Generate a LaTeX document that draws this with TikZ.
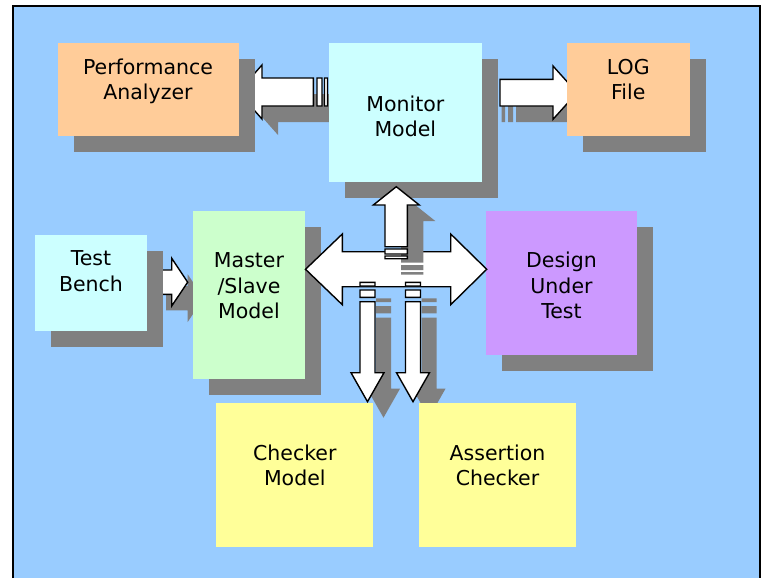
\documentclass[tikz,border=0pt]{standalone}
\usepackage{fontspec}
\setmainfont{DejaVu Sans}
\usetikzlibrary{shadows}
\definecolor{bgblue}{HTML}{99CCFF}
\definecolor{peach}{HTML}{FFCC99}
\definecolor{paleCyan}{HTML}{CCFFFF}
\definecolor{paleGreen}{HTML}{CCFFCC}
\definecolor{lilac}{HTML}{CC99FF}
\definecolor{paleYellow}{HTML}{FFFF99}
\definecolor{shadowgray}{HTML}{808080}
\newcommand{\capstrut}{\rule{0pt}{16pt}}
\newcommand{\blockshape}[1]{\fill[shadowfill,shift={(16,16)}] #1; \filldraw[arrowbody] #1;}
\begin{document}
\begin{tikzpicture}[x=1pt,y=-1pt,
  box/.style={anchor=north west, inner sep=0pt, outer sep=0pt, draw=none},
  shbox/.style={box, drop shadow={shadow xshift=16pt, shadow yshift=-16pt, fill=shadowgray, opacity=1}},
  lbl/.style={anchor=north, inner sep=0pt, align=center, font=\fontsize{20.5pt}{25.5pt}\selectfont, text=black},
  arrowbody/.style={fill=white, draw=black, line width=1.4pt, line join=miter},
  shadowfill/.style={fill=shadowgray}]

\useasboundingbox (0,0) rectangle (762,578);
\fill[white] (0,0) rectangle (762,578);
\fill[bgblue] (13,6.5) rectangle (760,578);
\draw[line width=2pt] (13,578) -- (13,6.5) -- (760,6.5) -- (760,578);

% arrow to Performance Analyzer
\blockshape{(238,92)--(262,65)--(262,78)--(313.3,78)--(313.3,106)--(262,106)--(262,119)--cycle (317,78) rectangle (322,106) (324.5,78) rectangle (327.5,106)}
% arrow to LOG File
\blockshape{(485.7,79.3) rectangle (489,106) (492,79.3) rectangle (497,106) (500,79.3)--(553,79.3)--(553,66)--(577,92.7)--(553,119.3)--(553,106)--(500,106)--cycle}
% arrow Test Bench -> Master
\blockshape{(150,270)--(171.7,270)--(171.7,258.3)--(187.7,282.2)--(171.7,306)--(171.7,294.3)--(150,294.3)--cycle}

% boxes with shadows
\node[shbox, fill=peach, minimum width=181.5pt, minimum height=92.7pt] (perf) at (57.5,43) {};
\node[shbox, fill=peach, minimum width=122.7pt, minimum height=92.7pt] (log) at (567,43) {};
\node[shbox, fill=paleCyan, minimum width=152.7pt, minimum height=138.7pt] (mon) at (329,43.3) {};
\node[shbox, fill=paleCyan, minimum width=112pt, minimum height=95.7pt] (tb) at (35,235) {};
\node[shbox, fill=paleGreen, minimum width=112pt, minimum height=167.7pt] (ms) at (193,211) {};
\node[shbox, fill=lilac, minimum width=151pt, minimum height=143.7pt] (dut) at (486,211) {};

% double arrow Master <-> DUT
\filldraw[arrowbody] (305.5,269.3)--(342.3,234)--(342.3,251.7)--(450.7,251.7)--(450.7,234)--(486.7,269.3)--(450.7,304.7)--(450.7,286.7)--(342.3,286.7)--(342.3,304.7)--cycle;
% up arrow to Monitor
\blockshape{(396.3,186.7)--(419.3,205)--(407.3,205)--(407.3,246.7)--(385,246.7)--(385,205)--(373.3,205)--cycle (385,249) rectangle (407.3,254) (385,256) rectangle (407.3,258.7)}
% down arrows
\blockshape{(360,282.3) rectangle (375,286) (360,290) rectangle (375,297.3) (360,301.7)--(375,301.7)--(375,372.7)--(384,372.7)--(367.5,401.7)--(351,372.7)--(360,372.7)--cycle}
\blockshape{(405.5,282.3) rectangle (420.5,286) (405.5,290) rectangle (420.5,297.3) (405.5,301.7)--(420.5,301.7)--(420.5,372.7)--(429.5,372.7)--(413,401.7)--(396.5,372.7)--(405.5,372.7)--cycle}

% boxes without shadows
\node[box, fill=paleYellow, minimum width=157pt, minimum height=143.7pt] (chk) at (216.3,403) {};
\node[box, fill=paleYellow, minimum width=157pt, minimum height=143.7pt] (asr) at (419,403) {};

% labels
\node[lbl] (perfT) at (148,58) {\capstrut Performance\\Analyzer};
\node[lbl] (monT) at (405.3,95) {\capstrut Monitor\\Model};
\node[lbl] (logT) at (628.3,58) {\capstrut LOG\\File};
\node[lbl] (tbT) at (91,249.7) {\capstrut Test\\Bench};
\node[lbl] (msT) at (249,251.7) {\capstrut Master\\/Slave\\Model};
\node[lbl] (dutT) at (561.5,251.7) {\capstrut Design\\Under\\Test};
\node[lbl] (chkT) at (294.8,444) {\capstrut Checker\\Model};
\node[lbl] (asrT) at (497.5,444) {\capstrut Assertion\\Checker};
\end{tikzpicture}
\end{document}
